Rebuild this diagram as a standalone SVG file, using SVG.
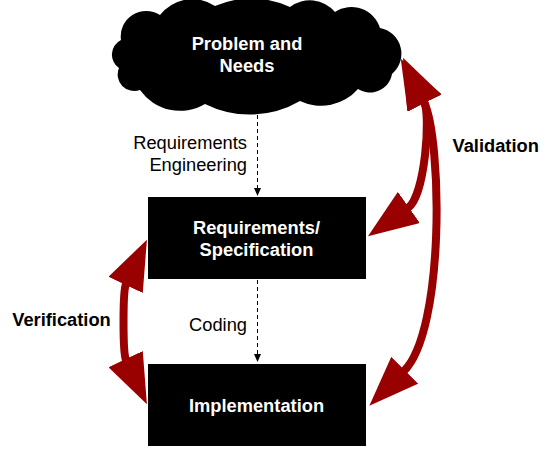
<svg xmlns="http://www.w3.org/2000/svg" width="547" height="451" viewBox="0 0 547 451">
<style>
.node{fill:#000000}
.nt{font-family:"Liberation Sans",Arial,sans-serif;font-size:18.3px;font-weight:bold;fill:#ffffff;text-anchor:middle}
.lbl{font-family:"Liberation Sans",Arial,sans-serif;font-size:18.3px;fill:#000000;text-anchor:end}
.blbl{font-family:"Liberation Sans",Arial,sans-serif;font-size:18.3px;font-weight:bold;fill:#000000;text-anchor:middle}
.big{fill:none;stroke:#990000;stroke-width:8;marker-start:url(#head);marker-end:url(#head)}
.dash{fill:none;stroke:#000000;stroke-width:1;stroke-dasharray:4 3;marker-end:url(#small)}
</style>
<defs>
<marker id="head" markerUnits="userSpaceOnUse" viewBox="0 0 50 38" markerWidth="50" markerHeight="38" refX="1" refY="19" orient="auto-start-reverse">
<path d="M0,0 L50,19 L0,38 Z" fill="#990000"/>
</marker>
<marker id="small" markerUnits="userSpaceOnUse" viewBox="0 0 8 7" markerWidth="8" markerHeight="7" refX="1" refY="3.5" orient="auto">
<path d="M0,0 L8,3.5 L0,7 Z" fill="#000000"/>
</marker>
</defs>
<g id="connectors">
<path class="dash" d="M257.5,115 L257.5,189"/>
<path class="dash" d="M257.5,280 L257.5,355"/>
<path class="big" d="M424,102 C431,115 425,196 408,208"/>
<path class="big" d="M424,102 C442,140 445,330 404,371"/>
<path class="big" d="M126,284 C122.7,291 122.7,353 126,360"/>
</g>
<g id="problem">
<path class="node" d="M121,40 A25.4,25.4 0 0 1 160,15 A40.8,40.8 0 0 1 215,6 A91.9,91.9 0 0 1 290,7 A33,33 0 0 1 335,12 A29.8,29.8 0 0 1 380,28 A26.3,26.3 0 0 1 392,74 A22.3,22.3 0 0 1 358,89 A48.8,48.8 0 0 1 300,101 A100,100 0 0 1 205,104 A49,49 0 0 1 140,90 A16.55,16.55 0 0 1 119,68 A16.25,16.25 0 0 1 121,40 Z"/>
<text class="nt" x="247" y="50">Problem and</text>
<text class="nt" x="247" y="72">Needs</text>
</g>
<g id="requirements">
<rect class="node" x="148" y="197" width="218" height="82"/>
<text class="nt" x="256.5" y="234">Requirements/</text>
<text class="nt" x="256.5" y="256">Specification</text>
</g>
<g id="implementation">
<rect class="node" x="148" y="364" width="218" height="82"/>
<text class="nt" x="256.5" y="412">Implementation</text>
</g>
<g id="labels">
<text class="lbl" x="247" y="149">Requirements</text>
<text class="lbl" x="247" y="171">Engineering</text>
<text class="lbl" x="247" y="331">Coding</text>
<text class="blbl" x="61.5" y="326">Verification</text>
<text class="blbl" x="495.7" y="152">Validation</text>
</g>
</svg>
